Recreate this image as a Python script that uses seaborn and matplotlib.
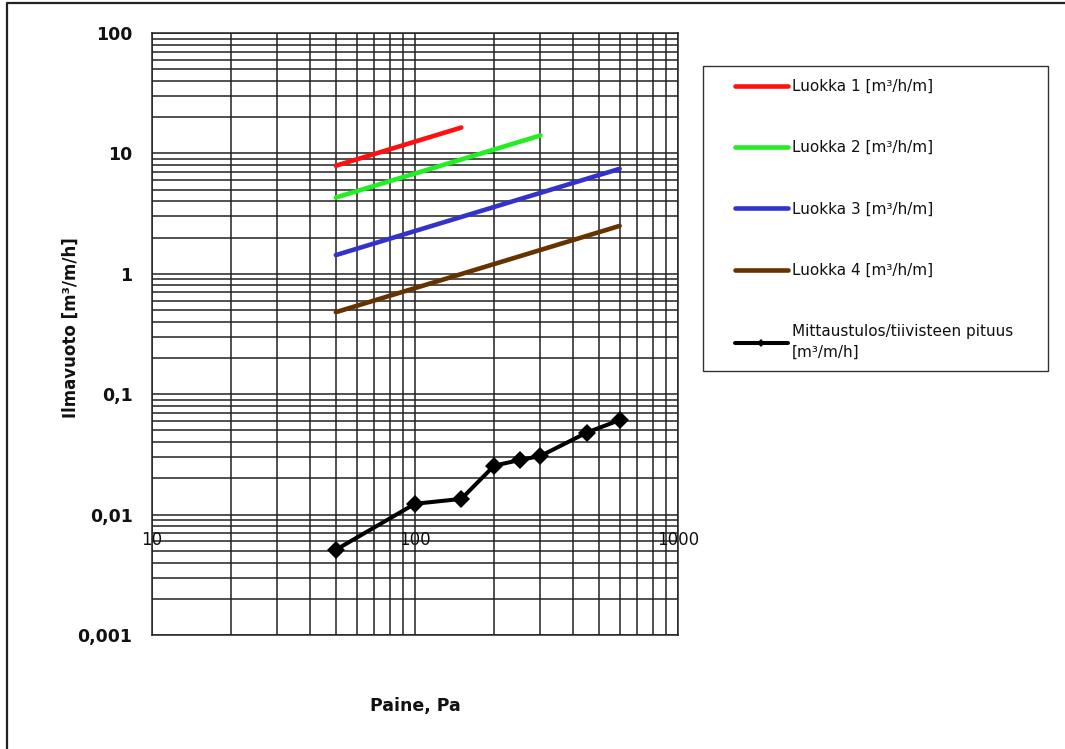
import numpy as np
import pandas as pd
import matplotlib
import matplotlib.pyplot as plt
import seaborn as sns
from matplotlib.lines import Line2D
from matplotlib.patches import Rectangle
from matplotlib.ticker import LogLocator, NullFormatter

sns.set_style("white")
matplotlib.rcParams['font.family'] = ['DejaVu Sans']

# ============================================================
# data
# ============================================================
luokka_names = ['Luokka 1 [m³/h/m]', 'Luokka 2 [m³/h/m]',
                'Luokka 3 [m³/h/m]', 'Luokka 4 [m³/h/m]']
luokka_p = [[50, 150], [50, 300], [50, 600], [50, 600]]
luokka_q = [[7.9, 16.4], [4.3, 14.1], [1.43, 7.45], [0.48, 2.5]]
luokka_colors = ['#ff1010', '#22ee22', '#3333cc', '#663300']

mittaus_name = 'Mittaustulos/tiivisteen pituus\n[m³/m/h]'
mittaus_p = [50, 100, 150, 200, 250, 300, 450, 600]
mittaus_q = [0.0051, 0.0123, 0.0135, 0.0255, 0.0284, 0.0307, 0.048, 0.061]

y_ticks = [0.001, 0.01, 0.1, 1, 10, 100]
y_labels = ['0,001', '0,01', '0,1', '1', '10', '100']
x_ticks = [10, 100, 1000]
x_labels = ['10', '100', '1000']

rows = []
for name, ps, qs in zip(luokka_names, luokka_p, luokka_q):
    for p, q in zip(ps, qs):
        rows.append({'Paine': p, 'Vuoto': q, 'Luokka': name})
df_luokat = pd.DataFrame(rows)
df_mittaus = pd.DataFrame({'Paine': mittaus_p, 'Vuoto': mittaus_q})

# ============================================================
# figure
# ============================================================
W, H = 1065, 749
fig = plt.figure(figsize=(W / 100, H / 100), dpi=100)
ax = fig.add_axes([152 / W, 1 - 635 / H, 526 / W, 602 / H])

ax.set_xscale('log')
ax.set_yscale('log')

sns.lineplot(data=df_luokat, x='Paine', y='Vuoto', hue='Luokka',
             palette=dict(zip(luokka_names, luokka_colors)),
             estimator=None, linewidth=3.3, legend=False, ax=ax)
sns.lineplot(data=df_mittaus, x='Paine', y='Vuoto', color='black',
             marker='D', markersize=9, markeredgewidth=0,
             estimator=None, linewidth=2.9, legend=False, ax=ax)

ax.set_xlim(10, 1000)
ax.set_ylim(0.001, 100)

ax.xaxis.set_minor_locator(LogLocator(base=10, subs=np.arange(2, 10)))
ax.yaxis.set_minor_locator(LogLocator(base=10, subs=np.arange(2, 10)))
ax.xaxis.set_minor_formatter(NullFormatter())
ax.yaxis.set_minor_formatter(NullFormatter())

ax.set_yticks(y_ticks)
ax.set_yticklabels(y_labels, fontsize=12.5, fontweight='bold', color='#111111')
ax.set_xticks(x_ticks)
ax.set_xticklabels([])
ax.tick_params(axis='y', which='major', length=5, width=1, direction='out',
               pad=9, color='#222222')
ax.tick_params(axis='y', which='minor', length=0)
ax.tick_params(axis='x', which='both', length=0)

# x tick labels sit inside the plot, just below the 0,01 line
for xv, lab in zip(x_ticks, x_labels):
    ax.text(xv, 0.0061, lab, ha='center', va='center', fontsize=12,
            color='#111111', zorder=5)

ax.grid(which='both', color='#222222', linewidth=1.1)
ax.set_axisbelow(True)
for sp in ax.spines.values():
    sp.set_color('#222222')
    sp.set_linewidth(1.1)

ax.set_xlabel('Paine, Pa', fontsize=12.5, fontweight='bold', color='#111111')
ax.xaxis.set_label_coords(0.5, -0.103)
ax.set_ylabel('Ilmavuoto [m³/m/h]', fontsize=12, fontweight='bold', color='#111111')
ax.yaxis.set_label_coords(-0.138, 0.51)

# legend in a separate frame at the right
handles = [Line2D([], [], color=c, lw=3.3) for c in luokka_colors]
handles.append(Line2D([], [], color='black', lw=2.9, marker='D', markersize=4,
                      markeredgewidth=0))
leg = fig.legend(handles, luokka_names + [mittaus_name], loc='upper left',
                 bbox_to_anchor=(735 / W, 1 - 79 / H), bbox_transform=fig.transFigure,
                 frameon=False, fontsize=11, handlelength=3.45, handletextpad=0.28,
                 labelspacing=3.03, borderpad=0, borderaxespad=0)
for t in leg.get_texts():
    t.set_color('#111111')
leg.get_texts()[-1].set_linespacing(1.5)

fig.patches.append(Rectangle((703 / W, 1 - 371 / H), 345 / W, 305 / H,
                             transform=fig.transFigure, fill=False,
                             edgecolor='#333333', linewidth=1.0))

# outer chart border (top and left edges visible)
fig.lines.append(Line2D([7 / W, 7 / W, 1], [0, 1 - 3 / H, 1 - 3 / H],
                        transform=fig.transFigure, color='#222222', linewidth=1.6))

plt.savefig('out.png', dpi=100)
